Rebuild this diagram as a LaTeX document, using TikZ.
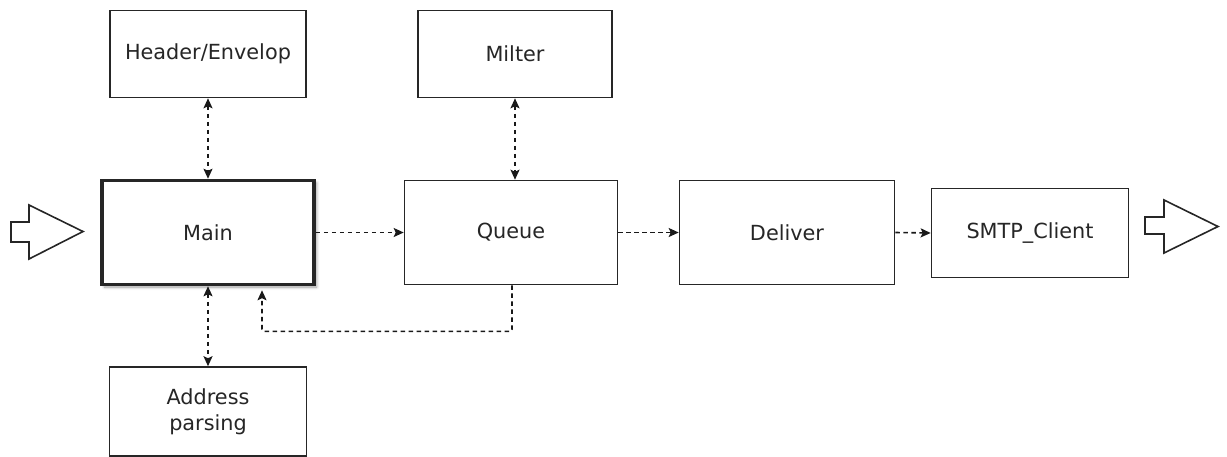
\documentclass[tikz,border=0pt]{standalone}
\usepackage{fontspec}
\setmainfont{DejaVu Sans}
\usetikzlibrary{arrows.meta,shadows.blur}
\tikzset{tipA/.tip={Stealth[length=10pt,width=9pt,inset=2pt]}}
\begin{document}
\begin{tikzpicture}[x=1pt,y=-1pt,
  box/.style={draw=black!85,line width=1.6pt,fill=white,inner sep=0pt,align=center,
    text=black!85,font=\fontsize{20.8}{26}\selectfont},
  dar/.style={draw=black!90,line width=1.6pt,dash pattern=on 4.5pt off 3.5pt,
    arrows={-tipA}},
  dbl/.style={dar,arrows={tipA-tipA}},
  blk/.style={draw=black!85,line width=1.6pt,fill=white,line join=miter}
]
\useasboundingbox (0,0) rectangle (1227,456);
\node[box,minimum width=196pt,minimum height=87pt] (hdr) at (208,54) {Header/Envelop};
\node[box,minimum width=194pt,minimum height=87pt] (milter) at (515,54) {Milter};
\node[box,line width=3.5pt,minimum width=212pt,minimum height=104pt,
  blur shadow={shadow xshift=2.5pt,shadow yshift=-2.5pt,shadow blur steps=6,shadow blur radius=3pt}] (main) at (208,232.5) {Main};
\node[box,minimum width=213pt,minimum height=104pt] (queue) at (511,232.5) {Queue};
\node[box,minimum width=215pt,minimum height=104pt] (deliver) at (787,232.5) {Deliver};
\node[box,minimum width=197pt,minimum height=89pt] (smtp) at (1030,233) {SMTP\_Client};
\node[box,minimum width=197pt,minimum height=89pt] (addr) at (208,411.5) {Address\\parsing};
\draw[blk] (11,222) -- (29,222) -- (29,205) -- (83,231.5) -- (29,259) -- (29,242) -- (11,242) -- cycle;
\draw[blk] (1145,217) -- (1164,217) -- (1164,200) -- (1218,226.5) -- (1164,253) -- (1164,234) -- (1145,234) -- cycle;
\draw[dbl] (hdr.south) -- (main.north);
\draw[dbl] (milter.south) -- (milter.south |- queue.north);
\draw[dbl] (main.south) -- (addr.north);
\draw[dar] (main.east) -- (queue.west);
\draw[dar] (queue.east) -- (deliver.west);
\draw[dar] (deliver.east) -- (smtp.west);
\coordinate (qb) at ([xshift=1pt]queue.south);
\coordinate (mb) at ([xshift=54pt,yshift=-4pt]main.south);
\draw[dar,rounded corners=2pt] (qb) -- ++(0,46) -| (mb);
\end{tikzpicture}
\end{document}
